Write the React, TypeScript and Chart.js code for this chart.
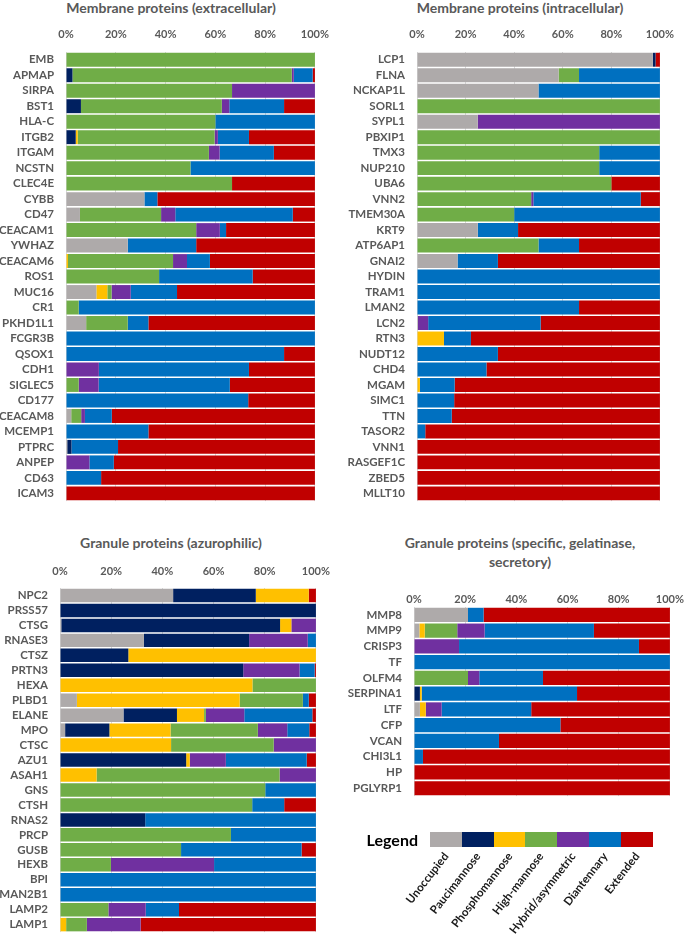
import React, { useEffect, useRef } from "react";
import { Chart, registerables } from "chart.js";
Chart.register(...registerables);

const SERIES_NAMES = ["Unoccupied", "Paucimannose", "Phosphomannose", "High-mannose", "Hybrid/asymmetric", "Diantennary", "Extended"];
const SERIES_COLORS = ["#AEAAAA", "#002060", "#FFC000", "#70AD47", "#7030A0", "#0070C0", "#C00000"];
const X_TICKS = [0, 20, 40, 60, 80, 100];

// Membrane proteins (extracellular)
const extCategories = ["EMB", "APMAP", "SIRPA", "BST1", "HLA-C", "ITGB2", "ITGAM", "NCSTN", "CLEC4E", "CYBB", "CD47", "CEACAM1", "YWHAZ", "CEACAM6", "ROS1", "MUC16", "CR1", "PKHD1L1", "FCGR3B", "QSOX1", "CDH1", "SIGLEC5", "CD177", "CEACAM8", "MCEMP1", "PTPRC", "ANPEP", "CD63", "ICAM3"];
const extUnoccupied = [0, 0, 0, 0, 0, 0, 0, 0, 0, 31.5, 5.6, 0, 24.8, 0, 0, 12.2, 0, 8.1, 0, 0, 0, 0, 0, 2.1, 0, 0.5, 0, 0, 0];
const extPauci = [0, 2.6, 0, 6.0, 0, 3.9, 0, 0, 0, 0, 0, 0, 0, 0, 0, 0, 0, 0, 0, 0, 0, 0, 0, 0, 0, 1.7, 0, 0, 0];
const extPhospho = [0, 0, 0, 0, 0, 0.8, 0, 0, 0, 0, 0, 0, 0, 0.8, 0, 4.4, 0, 0, 0, 0, 0, 0, 0, 0, 0, 0, 0, 0, 0];
const extHighMan = [100, 88.1, 66.7, 56.6, 60, 55.0, 57.4, 50, 66.7, 0, 32.6, 52.3, 0, 42.2, 37.4, 1.7, 5.1, 16.7, 0, 0, 0, 5.1, 0, 4.0, 0, 0, 0, 0, 0];
const extHybrid = [0, 0.8, 33.3, 3.0, 0, 1.3, 4.3, 0, 0, 0, 5.7, 9.5, 0, 5.6, 0, 7.7, 0, 0, 0, 0, 13.2, 8.0, 0, 1.5, 0, 0, 9.4, 0, 0];
const extDiant = [0, 7.6, 0, 22.0, 40, 12.5, 21.8, 50, 0, 5.2, 47.2, 2.5, 27.5, 9.2, 37.6, 18.6, 94.9, 8.3, 100, 87.6, 60.3, 52.7, 73.2, 10.8, 33.1, 18.7, 9.8, 14.1, 0];
const extExtended = [0, 0.9, 0, 12.4, 0, 26.5, 16.5, 0, 33.3, 63.3, 8.9, 35.7, 47.7, 42.2, 25.0, 55.4, 0, 66.9, 0, 12.4, 26.5, 34.2, 26.8, 81.6, 66.9, 79.1, 80.8, 85.9, 100];

// Membrane proteins (intracellular)
const intCategories = ["LCP1", "FLNA", "NCKAP1L", "SORL1", "SYPL1", "PBXIP1", "TMX3", "NUP210", "UBA6", "VNN2", "TMEM30A", "KRT9", "ATP6AP1", "GNAI2", "HYDIN", "TRAM1", "LMAN2", "LCN2", "RTN3", "NUDT12", "CHD4", "MGAM", "SIMC1", "TTN", "TASOR2", "VNN1", "RASGEF1C", "ZBED5", "MLLT10"];
const intUnoccupied = [97.1, 58.3, 50, 0, 25, 0, 0, 0, 0, 0, 0, 25, 0, 16.7, 0, 0, 0, 0.4, 0, 0, 0, 0, 0, 0, 0, 0, 0, 0, 0];
const intPauci = [1.1, 0, 0, 0, 0, 0, 0, 0, 0, 0, 0, 0, 0, 0, 0, 0, 0, 0, 0, 0, 0, 0, 0, 0, 0, 0, 0, 0, 0];
const intPhospho = [0, 0, 0, 0, 0, 0, 0, 0, 0, 0, 0, 0, 0, 0, 0, 0, 0, 0, 11.1, 0, 0, 1.2, 0, 0, 0, 0, 0, 0, 0];
const intHighMan = [0, 8.4, 0, 100, 0, 100, 75, 75, 80, 47.0, 40, 0, 50, 0, 0, 0, 0, 0, 0, 0, 0, 0, 0, 0, 0, 0, 0, 0, 0];
const intHybrid = [0, 0, 0, 0, 75, 0, 0, 0, 0, 0.9, 0, 0, 0, 0, 0, 0, 0, 4.2, 0, 0, 0, 0, 0, 0, 0, 0, 0, 0, 0];
const intDiant = [0, 33.3, 50, 0, 0, 0, 25, 25, 0, 44.2, 60, 16.6, 16.7, 16.6, 100, 100, 66.7, 46.3, 11.1, 33.3, 28.6, 14.3, 15.3, 14.3, 3.4, 0, 0, 0, 0];
const intExtended = [1.8, 0, 0, 0, 0, 0, 0, 0, 20, 7.9, 0, 58.4, 33.3, 66.7, 0, 0, 33.3, 49.1, 77.8, 66.7, 71.4, 84.5, 84.7, 85.7, 96.6, 100, 100, 100, 100];

// Granule proteins (azurophilic)
const azuCategories = ["NPC2", "PRSS57", "CTSG", "RNASE3", "CTSZ", "PRTN3", "HEXA", "PLBD1", "ELANE", "MPO", "CTSC", "AZU1", "ASAH1", "GNS", "CTSH", "RNAS2", "PRCP", "GUSB", "HEXB", "BPI", "MAN2B1", "LAMP2", "LAMP1"];
const azuUnoccupied = [44.2, 0, 0.5, 32.8, 0, 0, 0, 6.6, 24.8, 2.0, 0, 0, 0, 0, 0, 0, 0, 0, 0, 0, 0, 0, 0];
const azuPauci = [32.3, 100, 85.5, 41.1, 26.7, 71.6, 0, 0, 20.9, 17.3, 0, 49.3, 0, 0, 0, 33.3, 0, 0, 0, 0, 0, 0, 0];
const azuPhospho = [20.7, 0, 4.4, 0, 73.3, 0, 75.2, 63.6, 10.6, 23.9, 43.4, 1.4, 14.3, 0, 0, 0, 0, 0, 0, 0, 0, 0, 2.4];
const azuHighMan = [0, 0, 0, 0, 0, 0, 24.8, 24.7, 0.7, 34.1, 40.1, 0, 71.5, 80.2, 75.1, 0, 66.8, 47.3, 19.9, 0, 0, 18.9, 8.1];
const azuHybrid = [0, 0, 9.6, 22.9, 0, 22.0, 0, 0, 15.0, 11.5, 16.5, 14.1, 14.2, 0, 0, 0, 0, 0, 40.3, 0, 0, 14.6, 21.0];
const azuDiant = [0, 0, 0, 3.2, 0, 5.9, 0, 2.3, 26.6, 8.6, 0, 31.6, 0, 19.8, 12.5, 66.7, 33.2, 47.1, 39.8, 100, 100, 13.0, 0];
const azuExtended = [2.8, 0, 0, 0, 0, 0.5, 0, 2.8, 1.4, 2.6, 0, 3.6, 0, 0, 12.4, 0, 0, 5.6, 0, 0, 0, 53.5, 68.5];

// Granule proteins (specific, gelatinase, secretory)
const speCategories = ["MMP8", "MMP9", "CRISP3", "TF", "OLFM4", "SERPINA1", "LTF", "CFP", "VCAN", "CHI3L1", "HP", "PGLYRP1"];
const speUnoccupied = [21.1, 2.1, 0, 0, 0, 0, 2.3, 0, 0, 0, 0, 0];
const spePauci = [0, 0, 0, 0, 0, 2.3, 0, 0, 0, 0, 0, 0];
const spePhospho = [0, 2.1, 0, 0, 0, 0.7, 2.3, 0, 0, 0, 0, 0];
const speHighMan = [0, 12.7, 0, 0, 21.1, 0, 0, 0, 0, 0, 0, 0];
const speHybrid = [0, 10.7, 17.6, 0, 4.4, 0, 6.2, 0, 0, 0, 0, 0];
const speDiant = [6.1, 42.7, 70.3, 100, 24.9, 60.7, 35.0, 57.2, 33.2, 3.5, 0, 0];
const speExtended = [72.8, 29.7, 12.1, 0, 49.6, 36.3, 54.2, 42.8, 66.8, 96.5, 100, 100];

const FONT = "Lato, 'Open Sans', 'Liberation Sans', sans-serif";
const GREY_TEXT = "#595959";

type PanelProps = {
  left: number; top: number; width: number; height: number;
  categories: string[]; series: number[][];
  yWidth: number; xHeight: number; padRight: number; padBottom: number; xTickPad: number;
};

function Panel(p: PanelProps) {
  const ref = useRef<HTMLCanvasElement>(null);
  useEffect(() => {
    const chart = new Chart(ref.current as HTMLCanvasElement, {
      type: "bar",
      data: {
        labels: p.categories,
        datasets: p.series.map((d, i) => ({
          label: SERIES_NAMES[i],
          data: d,
          backgroundColor: SERIES_COLORS[i],
          borderWidth: 0,
          barPercentage: 0.9,
          categoryPercentage: 1,
        })),
      },
      options: {
        indexAxis: "y",
        responsive: false,
        animation: false,
        devicePixelRatio: 1,
        layout: { padding: { left: 0, right: p.padRight, top: 0, bottom: p.padBottom } },
        plugins: { legend: { display: false }, tooltip: { enabled: false }, title: { display: false } },
        scales: {
          x: {
            position: "top",
            stacked: true,
            min: 0,
            max: 100,
            afterBuildTicks: (s: any) => { s.ticks = X_TICKS.map((v) => ({ value: v })); },
            ticks: {
              callback: (v: any) => v + "%",
              color: GREY_TEXT,
              font: { family: FONT, size: 11, weight: "bold" },
              padding: p.xTickPad,
              maxRotation: 0,
              autoSkip: false,
            },
            grid: { color: "#d9d9d9", lineWidth: 1, drawTicks: false },
            border: { display: false },
            afterFit: (s: any) => { s.height = p.xHeight; },
          },
          y: {
            stacked: true,
            ticks: {
              autoSkip: false,
              color: GREY_TEXT,
              font: { family: FONT, size: 11.5, weight: "bold" },
              padding: 12,
            },
            grid: { display: false, drawTicks: false },
            border: { display: false },
            afterFit: (s: any) => { s.width = p.yWidth; },
          },
        },
      } as any,
    });
    return () => chart.destroy();
  }, []);
  return (
    <canvas
      ref={ref}
      width={p.width}
      height={p.height}
      style={{ position: "absolute", left: p.left, top: p.top, width: p.width, height: p.height }}
    />
  );
}

function Title({ cx, cy, lines }: { cx: number; cy: number; lines: string[] }) {
  const lh = 19;
  return (
    <div
      style={{
        position: "absolute",
        left: cx - 200,
        width: 400,
        top: cy - (lines.length * lh) / 2,
        textAlign: "center",
        fontFamily: FONT,
        fontWeight: "bold",
        fontSize: 14,
        lineHeight: lh + "px",
        color: GREY_TEXT,
        whiteSpace: "nowrap",
      }}
    >
      {lines.map((l, i) => (
        <div key={i}>{l}</div>
      ))}
    </div>
  );
}

function Legend() {
  const x0 = 430;
  const bw = 31.8;
  const y0 = 832;
  const bh = 15;
  return (
    <>
      <div
        style={{
          position: "absolute",
          left: 300,
          width: 118,
          top: 840 - 12,
          height: 24,
          lineHeight: "24px",
          textAlign: "right",
          fontFamily: FONT,
          fontWeight: "bold",
          fontSize: 16,
          color: "#000",
        }}
      >
        Legend
      </div>
      {SERIES_NAMES.map((name, i) => (
        <div
          key={"b" + i}
          style={{
            position: "absolute",
            left: x0 + i * bw,
            top: y0,
            width: bw,
            height: bh,
            background: SERIES_COLORS[i],
          }}
        />
      ))}
      {SERIES_NAMES.map((name, i) => {
        const cx = x0 + (i + 0.5) * bw;
        const w = 140;
        const h = 14;
        return (
          <div
            key={"l" + i}
            style={{
              position: "absolute",
              left: cx - w,
              top: 854 - h / 2,
              width: w,
              height: h,
              lineHeight: h + "px",
              textAlign: "right",
              fontFamily: FONT,
              fontWeight: "bold",
              fontSize: 11.5,
              color: "#1a1a1a",
              whiteSpace: "nowrap",
              transformOrigin: "100% 50%",
              transform: "rotate(-52deg)",
            }}
          >
            {name}
          </div>
        );
      })}
    </>
  );
}

export default function App() {
  return (
    <div style={{ position: "absolute", left: 0, top: 0, width: 685, height: 951, background: "#fff", overflow: "hidden" }}>
      <Title cx={171} cy={7} lines={["Membrane proteins (extracellular)"]} />
      <Title cx={520} cy={7} lines={["Membrane proteins (intracellular)"]} />
      <Title cx={171} cy={542} lines={["Granule proteins (azurophilic)"]} />
      <Title cx={520} cy={551.5} lines={["Granule proteins (specific, gelatinase,", "secretory)"]} />
      <Panel
        left={0} top={20} width={340} height={500}
        categories={extCategories}
        series={[extUnoccupied, extPauci, extPhospho, extHighMan, extHybrid, extDiant, extExtended]}
        yWidth={66} xHeight={32} padRight={19} padBottom={6} xTickPad={11}
      />
      <Panel
        left={340} top={20} width={345} height={500}
        categories={intCategories}
        series={[intUnoccupied, intPauci, intPhospho, intHighMan, intHybrid, intDiant, intExtended]}
        yWidth={77} xHeight={32} padRight={15} padBottom={6} xTickPad={11}
      />
      <Panel
        left={0} top={555} width={340} height={396}
        categories={azuCategories}
        series={[azuUnoccupied, azuPauci, azuPhospho, azuHighMan, azuHybrid, azuDiant, azuExtended]}
        yWidth={60} xHeight={33} padRight={19} padBottom={1} xTickPad={10}
      />
      <Panel
        left={340} top={575} width={345} height={240}
        categories={speCategories}
        series={[speUnoccupied, spePauci, spePhospho, speHighMan, speHybrid, speDiant, speExtended]}
        yWidth={74} xHeight={32} padRight={15} padBottom={16} xTickPad={1}
      />
      <Legend />
    </div>
  );
}
